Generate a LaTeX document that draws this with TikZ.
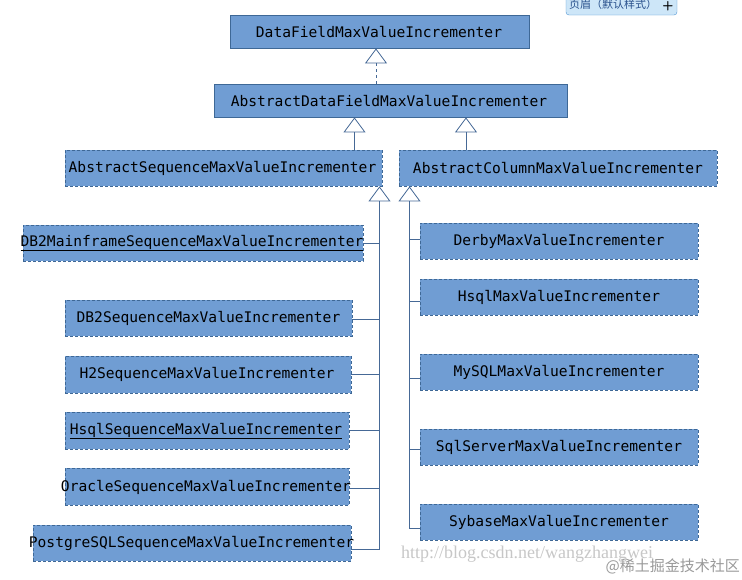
\documentclass[tikz,border=0pt]{standalone}
\usepackage{fontspec}
\setmainfont{Liberation Serif}
\newfontfamily\monof{DejaVu Sans Mono}
\newfontfamily\cjkf{Noto Sans CJK SC}
\usetikzlibrary{arrows.meta}
\definecolor{boxfill}{RGB}{112,157,211}
\definecolor{boxline}{RGB}{62,104,150}
\definecolor{conn}{RGB}{70,105,150}
\definecolor{uifill}{RGB}{205,230,248}
\definecolor{uiline}{RGB}{80,150,210}
\definecolor{uitext}{RGB}{40,80,140}
\begin{document}
\begin{tikzpicture}[x=1pt,y=-1pt,
  solidbox/.style={draw=boxline, fill=boxfill, line width=0.8pt, inner sep=0pt},
  dashbox/.style={draw=boxline, fill=boxfill, line width=0.8pt, inner sep=0pt, dash pattern=on 3pt off 2pt},
  lbl/.style={font=\monof\fontsize{14.6}{16}\selectfont, inner sep=0pt, text=black},
  conline/.style={draw=conn, line width=0.8pt},
  inh/.style={conline, -{Triangle[open, width=22pt, length=15pt]}},
  wm/.style={inner sep=0pt, text=black!22}
]
\useasboundingbox (0,0) rectangle (742,579);
\begin{scope}
\clip (0,0) rectangle (742,579);
% UI fragment top right
\node[draw=uiline, fill=uifill, rounded corners=3pt, minimum width=111pt, minimum height=30pt, inner sep=0pt] (ui) at (621.5,0) {};
\node[inner sep=0pt, text=uitext, font=\cjkf\fontsize{11}{12}\selectfont, anchor=west] (uit) at (569,4) {页眉（默认样式）};
\node[inner sep=0pt, text=black, font=\sffamily\bfseries\fontsize{13}{14}\selectfont] (uip) at (668,6) {+};
\end{scope}

% boxes
\node[solidbox, minimum width=299pt, minimum height=33pt] (df) at (379.5,31.5) {};
\node[solidbox, minimum width=353pt, minimum height=33pt] (adf) at (390.5,100.5) {};
\node[dashbox, minimum width=317pt, minimum height=36pt] (aseq) at (223.5,168) {};
\node[dashbox, minimum width=318pt, minimum height=36pt] (acol) at (558,168) {};
\node[dashbox, minimum width=340pt, minimum height=36pt] (db2m) at (193,243) {};
\node[dashbox, minimum width=287pt, minimum height=36pt] (db2) at (208.5,318) {};
\node[dashbox, minimum width=286pt, minimum height=37pt] (h2) at (208,374.5) {};
\node[dashbox, minimum width=284pt, minimum height=37pt] (hsqls) at (207,430.5) {};
\node[dashbox, minimum width=284pt, minimum height=37pt] (ora) at (207,486.5) {};
\node[dashbox, minimum width=318pt, minimum height=36pt] (pg) at (192,543) {};
\node[dashbox, minimum width=278pt, minimum height=36pt] (derby) at (559,241) {};
\node[dashbox, minimum width=278pt, minimum height=36pt] (hsql) at (559,297) {};
\node[dashbox, minimum width=278pt, minimum height=36pt] (mysql) at (559,372) {};
\node[dashbox, minimum width=278pt, minimum height=36pt] (sqls) at (559,447) {};
\node[dashbox, minimum width=278pt, minimum height=36pt] (syb) at (559,522) {};

% labels
\node[lbl] (tdf) at (379,32) {DataFieldMaxValueIncrementer};
\node[lbl] (tadf) at (389,101) {AbstractDataFieldMaxValueIncrementer};
\node[lbl] (taseq) at (222.5,168) {AbstractSequenceMaxValueIncrementer};
\node[lbl] (tacol) at (558,168) {AbstractColumnMaxValueIncrementer};
\node[lbl] (tdb2m) at (192,243) {\underline{DB2MainframeSequenceMaxValueIncrementer}};
\node[lbl] (tdb2) at (208.5,318) {DB2SequenceMaxValueIncrementer};
\node[lbl] (th2) at (207,374.5) {H2SequenceMaxValueIncrementer};
\node[lbl] (thsqls) at (206,431) {\underline{HsqlSequenceMaxValueIncrementer}};
\node[lbl] (tora) at (206,487) {OracleSequenceMaxValueIncrementer};
\node[lbl] (tpg) at (191.5,543) {PostgreSQLSequenceMaxValueIncrementer};
\node[lbl] (tderby) at (559,241) {DerbyMaxValueIncrementer};
\node[lbl] (thsql) at (559,297) {HsqlMaxValueIncrementer};
\node[lbl] (tmysql) at (559,372) {MySQLMaxValueIncrementer};
\node[lbl] (tsqls) at (559,447) {SqlServerMaxValueIncrementer};
\node[lbl] (tsyb) at (559,522) {SybaseMaxValueIncrementer};

% top connectors
\coordinate (c1) at (376,0);
\draw[inh, dashed] (adf.north -| c1) -- (df.south -| c1);
\coordinate (c2) at (354.5,0);
\draw[inh] (aseq.north -| c2) -- (adf.south -| c2);
\coordinate (c3) at (466,0);
\draw[inh] (acol.north -| c3) -- (adf.south -| c3);

% sequence trunk
\coordinate (ls) at (379.5,0);
\draw[inh] ([yshift=-6pt]pg.east) -- ([yshift=-6pt]pg.east -| ls) -- (aseq.south -| ls);
\draw[conline] (db2m.east) -- (db2m.east -| ls);
\draw[conline] ([yshift=-1pt]db2.east) -- ([yshift=-1pt]db2.east -| ls);
\draw[conline] (h2.east) -- (h2.east -| ls);
\draw[conline] (hsqls.east) -- (hsqls.east -| ls);
\draw[conline] ([yshift=-1.5pt]ora.east) -- ([yshift=-1.5pt]ora.east -| ls);

% column trunk
\coordinate (rs) at (409.5,0);
\draw[inh] ([yshift=-6pt]syb.west) -- ([yshift=-6pt]syb.west -| rs) -- (acol.south -| rs);
\draw[conline] ([yshift=2pt]derby.west) -- ([yshift=2pt]derby.west -| rs);
\draw[conline] ([yshift=-4pt]hsql.west) -- ([yshift=-4pt]hsql.west -| rs);
\draw[conline] ([yshift=-6pt]mysql.west) -- ([yshift=-6pt]mysql.west -| rs);
\draw[conline] ([yshift=-2pt]sqls.west) -- ([yshift=-2pt]sqls.west -| rs);

% watermarks
\node[wm, anchor=west, font=\fontsize{18}{20}\selectfont] (wm1) at (401,554) {http://blog.csdn.net/wangzhangwei};
\node[wm, anchor=east, text=black!40, font=\cjkf\fontsize{15}{16}\selectfont] (wm2) at (740,566) {@稀土掘金技术社区};
\end{tikzpicture}
\end{document}
